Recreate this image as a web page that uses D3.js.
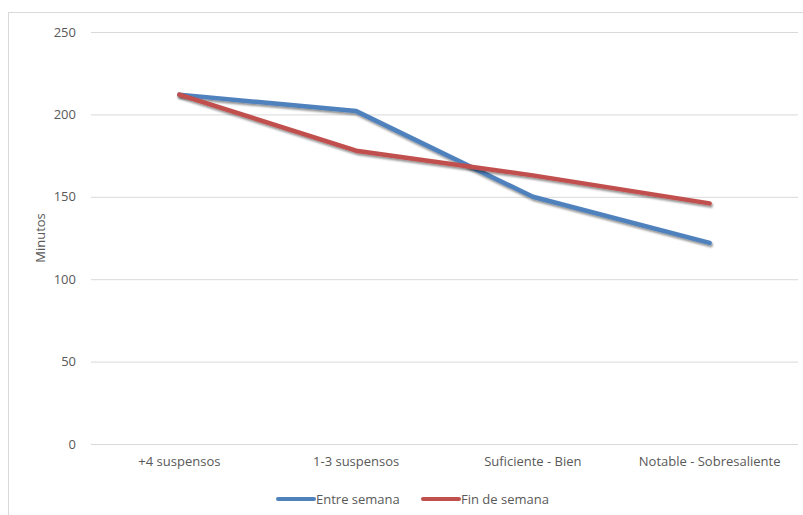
<!DOCTYPE html>
<html>
<head>
<meta charset="utf-8">
<script src="https://cdn.jsdelivr.net/npm/d3@7"></script>
<style>
  html, body { margin: 0; padding: 0; background: #fff; }
  svg { display: block; }
  text { font-family: "Open Sans", Lato, "Liberation Sans", sans-serif; fill: #595959; }
</style>
</head>
<body>
<svg id="chart" width="803" height="515"></svg>
<script>
// Average minutes per day by academic result
const categories = ["+4 suspensos", "1-3 suspensos", "Suficiente - Bien", "Notable - Sobresaliente"];
const entreSemana = [212, 202, 150, 122];
const finDeSemana = [212, 178, 163, 146];
const seriesNames = ["Entre semana", "Fin de semana"];
const seriesColors = ["#4F81BD", "#C0504D"];
const yTicks = [0, 50, 100, 150, 200, 250];

const svg = d3.select("#chart");
const W = 803, H = 515;
const FONT = "'Open Sans', Lato, sans-serif";
const FS = 13;

// Outer chart frame
svg.append("rect")
  .attr("x", 8.5).attr("y", 12.5)
  .attr("width", W + 20).attr("height", H + 20)
  .attr("fill", "#fff").attr("stroke", "#d9d9d9").attr("stroke-width", 1);

const plot = { left: 91, right: 798, top: 32, bottom: 444 };

const x = d3.scaleBand().domain(categories).range([plot.left, plot.right]).padding(0);
const y = d3.scaleLinear().domain([0, 250]).range([plot.bottom, plot.top]);

// Soft drop shadow under each line
const defs = svg.append("defs");
const f = defs.append("filter").attr("id", "shadow")
  .attr("x", "-10%").attr("y", "-10%").attr("width", "120%").attr("height", "130%");
f.append("feDropShadow").attr("dx", 1).attr("dy", 2).attr("stdDeviation", 1.2)
  .attr("flood-color", "#000").attr("flood-opacity", 0.45);

// Gridlines and y labels
const yAxis = d3.axisLeft(y).tickValues(yTicks).tickSize(-(plot.right - plot.left)).tickPadding(15);
const gy = svg.append("g").attr("transform", `translate(${plot.left},0)`).call(yAxis);
gy.select(".domain").remove();
gy.selectAll(".tick line").attr("stroke", "#d9d9d9").attr("stroke-width", 1);
gy.selectAll(".tick text").attr("font-size", FS).attr("fill", "#595959")
  .style("font-family", FONT);

// Category labels
const xAxis = d3.axisBottom(x).tickSize(0).tickPadding(13);
const gx = svg.append("g").attr("transform", `translate(0,${plot.bottom})`).call(xAxis);
gx.select(".domain").remove();
gx.selectAll(".tick text").attr("font-size", FS).attr("fill", "#595959")
  .style("font-family", FONT);

// Y axis title
svg.append("text")
  .attr("transform", `translate(45,${(plot.top + plot.bottom) / 2}) rotate(-90)`)
  .attr("text-anchor", "middle").attr("font-size", FS)
  .text("Minutos");

// Lines
const line = d3.line()
  .x((d, i) => x(categories[i]) + x.bandwidth() / 2)
  .y(d => y(d));

[entreSemana, finDeSemana].forEach((vals, k) => {
  svg.append("path")
    .datum(vals)
    .attr("d", line)
    .attr("fill", "none")
    .attr("stroke", seriesColors[k])
    .attr("stroke-width", 4.5)
    .attr("stroke-linejoin", "round")
    .attr("stroke-linecap", "round")
    .attr("filter", "url(#shadow)");
});

// Legend
const legendItems = [{ x: 278 }, { x: 423 }];
legendItems.forEach((it, k) => {
  const g = svg.append("g").attr("transform", `translate(${it.x},499)`);
  g.append("line").attr("x1", 0).attr("x2", 36).attr("y1", 0).attr("y2", 0)
    .attr("stroke", seriesColors[k]).attr("stroke-width", 4).attr("stroke-linecap", "round");
  g.append("text").attr("x", 38).attr("y", 4.5).attr("font-size", FS).text(seriesNames[k]);
});
</script>
</body>
</html>
